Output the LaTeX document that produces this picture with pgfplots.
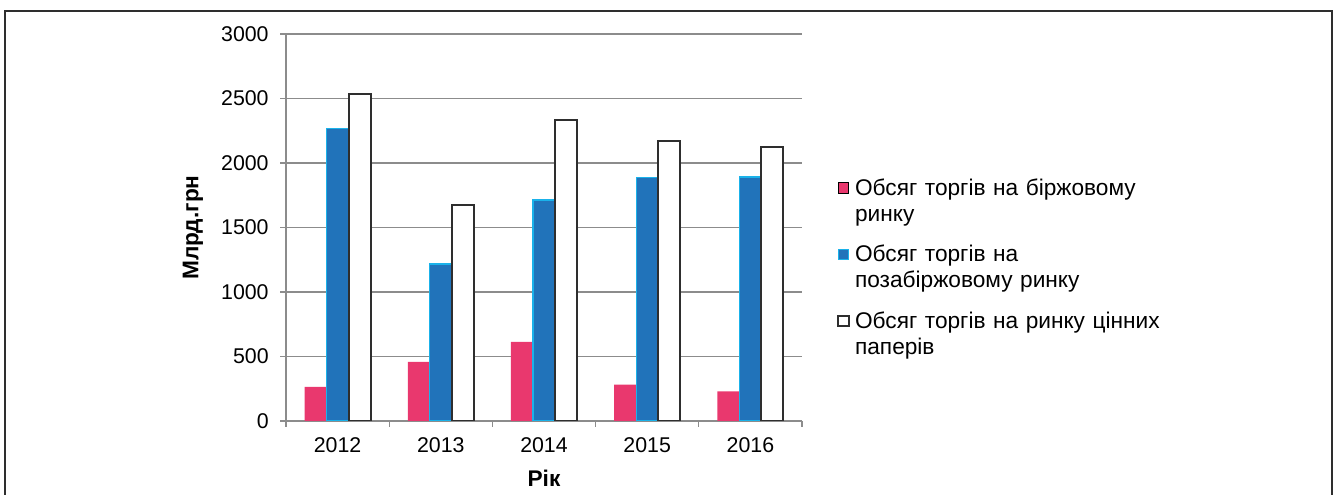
\documentclass[border=0pt]{standalone}
\usepackage{fontspec}
\setmainfont{Liberation Sans}
\usepackage{pgfplots}
\pgfplotsset{compat=1.18}

\definecolor{birzh}{HTML}{E9386E}
\definecolor{pozab}{HTML}{2173BA}
\definecolor{pozabedge}{HTML}{1AB2EA}
\definecolor{gridgray}{HTML}{8C8C8C}
\definecolor{framegray}{HTML}{2E2E2E}

% Trading volumes, bn UAH
\pgfplotstableread{
x  birzh  pozab  cinni
0  264    2268   2534
1  458    1218   1678
2  613    1712   2330
3  282    1890   2171
4  230    1892   2125
}\volumes

\begin{document}
\begin{tikzpicture}
\useasboundingbox (0,0) rectangle (1002pt,371.25pt);
\clip (0,0) rectangle (1002pt,371.25pt);
\draw[line width=1.6pt, color=framegray]
  (3.75pt,-20pt) -- (3.75pt,363pt) -- (999pt,363pt) -- (999pt,-20pt);
\begin{axis}[
  at={(214.5pt,55.5pt)}, anchor=south west,
  scale only axis, width=387pt, height=290.25pt,
  xmin=-0.5, xmax=4.5, ymin=0, ymax=3000,
  ybar=0pt, bar width=16.5pt,
  axis lines*=left,
  axis line style={gridgray, line width=1pt},
  tick align=outside, major tick length=4.5pt,
  tick style={gridgray, line width=0.8pt},
  ymajorgrids, grid style={gridgray, line width=1.1pt},
  ytick={0,500,...,3000},
  /pgf/number format/assume math mode=true,
  /pgf/number format/1000 sep={},
  xtick={-0.5,0.5,1.5,2.5,3.5,4.5}, xticklabels={},
  extra x ticks={0,1,2,3,4},
  extra x tick labels={2012,2013,2014,2015,2016},
  extra x tick style={major tick length=0pt, grid=none},
  ticklabel style={font=\fontsize{16}{19}\selectfont},
  yticklabel style={xshift=-5pt},
  xticklabel style={yshift=-9pt},
  ylabel={\textbf{Млрд.грн}},
  ylabel style={font=\fontsize{17}{20}\selectfont, at={(axis description cs:-0.1802,0.5)}, anchor=center},
  xlabel={\textbf{Рік}},
  xlabel style={font=\fontsize{17}{20}\selectfont, at={(axis description cs:0.5,-0.147)}, anchor=center},
  legend cell align=left,
  legend style={draw=none, fill=none, inner sep=0pt,
    at={(axis description cs:1.068,0.627)}, anchor=north west,
    font=\fontsize{17}{19.5}\selectfont,
    nodes={inner sep=0pt, text width=260pt},
    row sep=36pt, column sep=4pt},
  legend image code/.code={\draw[#1, bar shift=0pt] (0pt,-3.9pt) rectangle (7.8pt,3.9pt);},
]
\addplot[fill=birzh, draw=none] table[x=x, y=birzh] {\volumes};
\addlegendentry{Обсяг торгів на біржовому\\ринку}
\addplot[fill=pozab, draw=pozabedge, line width=1pt] table[x=x, y=pozab] {\volumes};
\addlegendentry{Обсяг торгів на\\позабіржовому ринку}
\addplot[fill=white, draw=framegray, line width=1.5pt] table[x=x, y=cinni] {\volumes};
\addlegendentry{Обсяг торгів на ринку цінних\\паперів}
\end{axis}
\end{tikzpicture}
\end{document}
